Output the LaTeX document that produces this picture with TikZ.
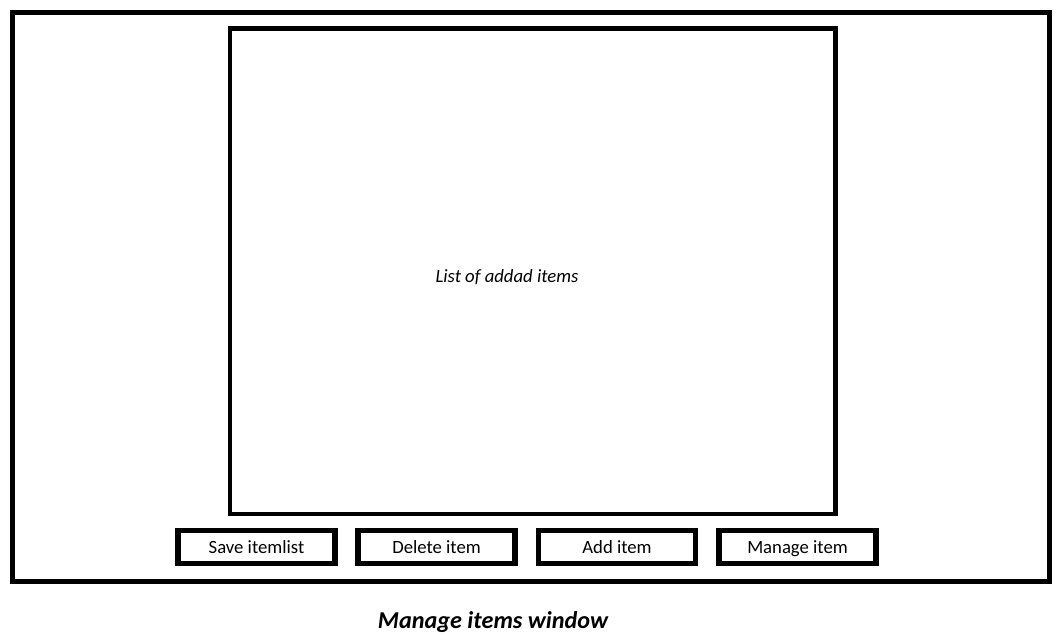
\documentclass[tikz,border=0pt]{standalone}
\usepackage{fontspec}
\setmainfont{Carlito}
\begin{document}
\begin{tikzpicture}[x=1pt,y=-1pt,
  frame/.style={draw=black,line width=5pt},
  listbox/.style={draw=black,line width=4.5pt},
  btn/.style={draw=black,line width=5.5pt,minimum width=157pt,minimum height=33pt,inner sep=0pt,text height=15pt,text depth=2pt,font=\fontsize{18.7}{22}\selectfont},
  lbl/.style={font=\fontsize{18.7}{22}\selectfont\itshape}]
\useasboundingbox[fill=white] (0,0) rectangle (1064,641);
\draw[frame] (12.5,12.5) rectangle (1049.5,581.5);
\draw[listbox] (230,28.5) rectangle (835.5,514);
\node[lbl] (list) at (507,277) {List of addad items};
\node[btn] (save) at (256.5,546.8) {Save itemlist};
\node[btn] (del) at (436.5,546.8) {Delete item};
\node[btn] (add) at (617,546.8) {Add item};
\node[btn] (man) at (797.5,546.8) {Manage item};
\node[font=\fontsize{24.2}{28}\selectfont\bfseries\itshape] (cap) at (493,622) {Manage items window};
\end{tikzpicture}
\end{document}
